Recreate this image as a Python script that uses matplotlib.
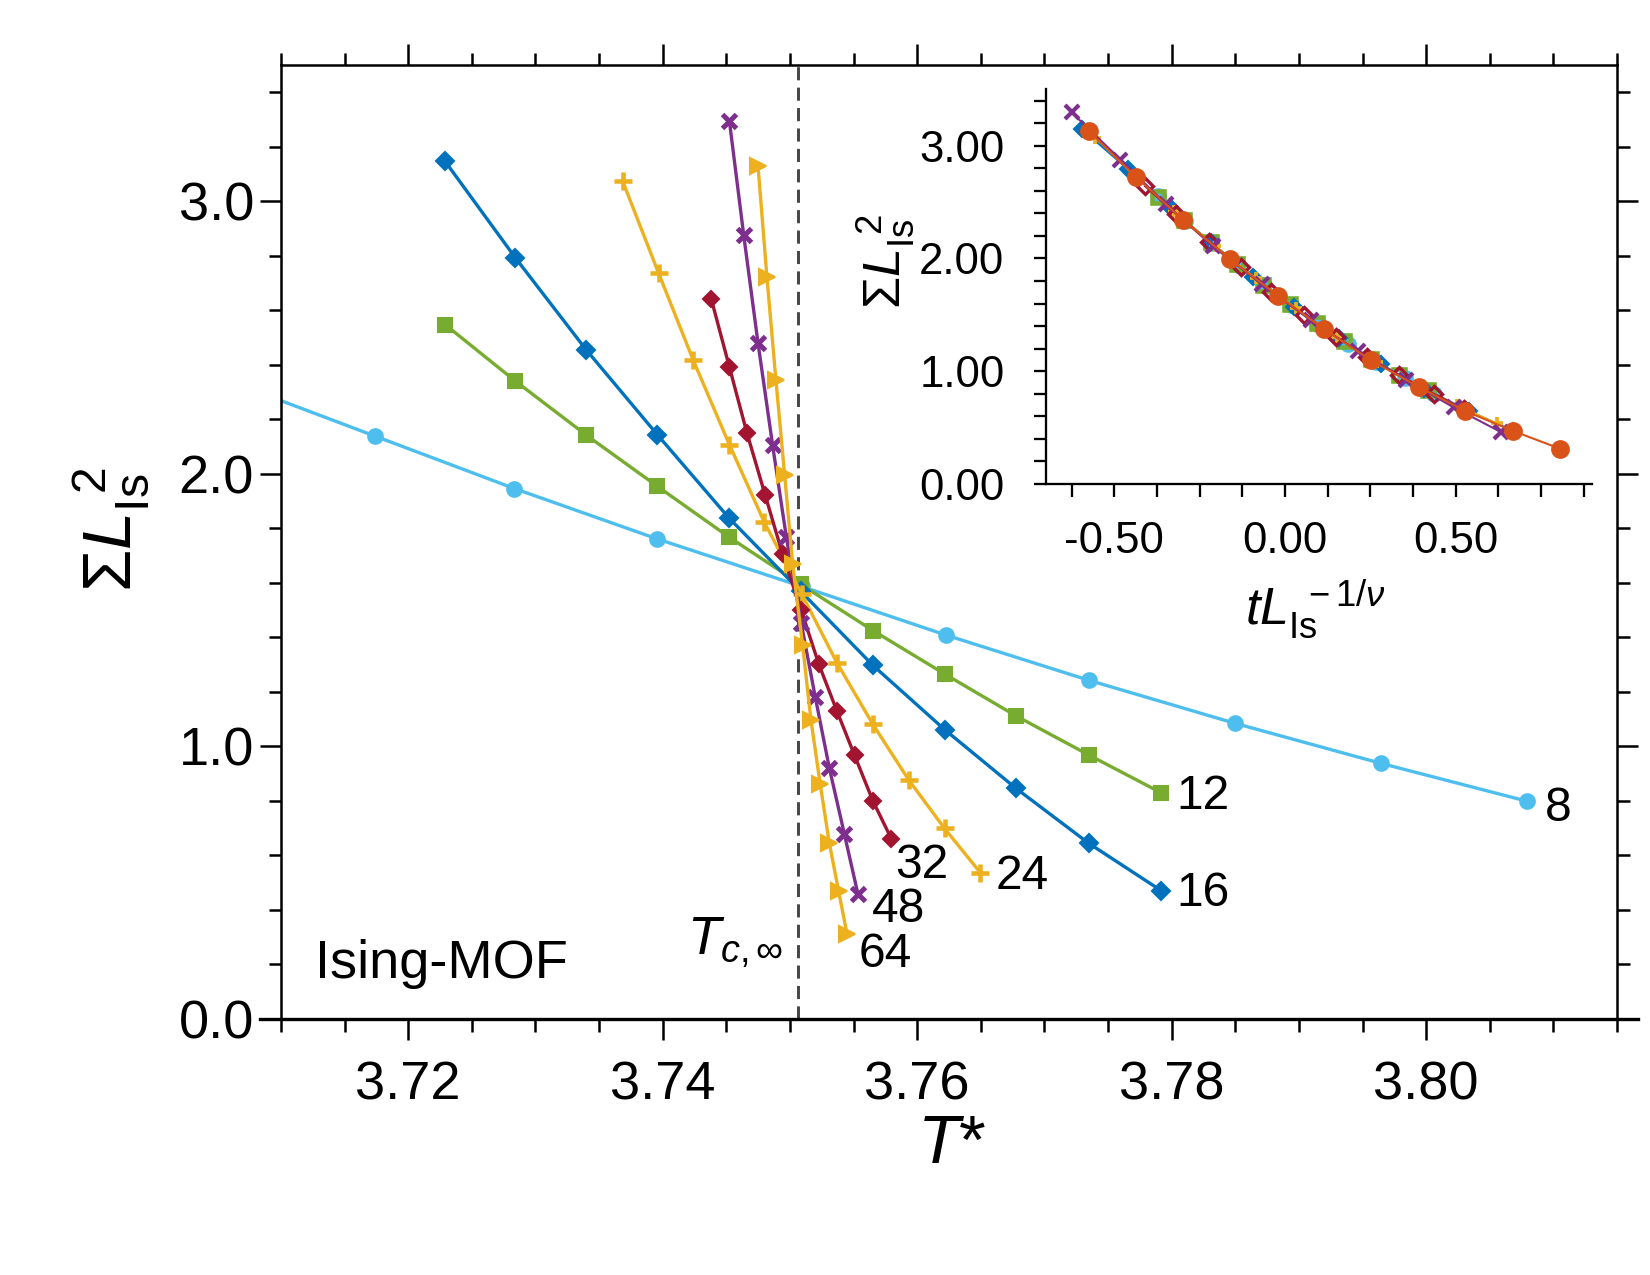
import numpy as np
import matplotlib
matplotlib.use('Agg')
import matplotlib.pyplot as plt
from matplotlib.ticker import MultipleLocator, FormatStrFormatter

plt.rcParams['font.family'] = ['Liberation Sans', 'DejaVu Sans']
plt.rcParams['mathtext.fontset'] = 'custom'
plt.rcParams['mathtext.rm'] = 'Liberation Sans'
plt.rcParams['mathtext.it'] = 'Liberation Sans:italic'
plt.rcParams['mathtext.sf'] = 'Liberation Sans'

# ---- data ----
Tc = 3.7506

T_8 = [3.69488, 3.70612, 3.71736, 3.72835, 3.73959, 3.75091, 3.76223, 3.77347, 3.78496, 3.79644, 3.80793]
S_8 = [2.550, 2.337, 2.139, 1.946, 1.761, 1.587, 1.409, 1.243, 1.085, 0.938, 0.799]

T_12 = [3.72289, 3.72843, 3.73397, 3.73959, 3.74521, 3.75083, 3.75653, 3.76215, 3.76777, 3.77347, 3.77917]
S_12 = [2.548, 2.340, 2.143, 1.954, 1.768, 1.595, 1.425, 1.266, 1.112, 0.969, 0.830]

T_16 = [3.72289, 3.72843, 3.73397, 3.73959, 3.74521, 3.75083, 3.75653, 3.76215, 3.76777, 3.77347, 3.77917]
S_16 = [3.147, 2.792, 2.456, 2.143, 1.838, 1.570, 1.297, 1.062, 0.846, 0.645, 0.471]

T_24 = [3.73686, 3.73967, 3.74240, 3.74524, 3.74798, 3.75094, 3.75369, 3.75652, 3.75932, 3.76215, 3.76496]
S_24 = [3.073, 2.737, 2.417, 2.107, 1.823, 1.558, 1.307, 1.081, 0.878, 0.699, 0.537]

T_32 = [3.74382, 3.74524, 3.74662, 3.74806, 3.74942, 3.75089, 3.75225, 3.75369, 3.75508, 3.75652, 3.75796]
S_32 = [2.641, 2.392, 2.150, 1.921, 1.705, 1.499, 1.304, 1.130, 0.967, 0.800, 0.662]

T_48 = [3.74524, 3.74636, 3.74749, 3.74863, 3.74971, 3.75089, 3.75199, 3.75309, 3.75427, 3.75534]
S_48 = [3.295, 2.878, 2.480, 2.107, 1.770, 1.451, 1.181, 0.922, 0.680, 0.459]

T_64 = [3.74749, 3.74819, 3.74890, 3.74958, 3.75021, 3.75099, 3.75165, 3.75238, 3.75309, 3.75382, 3.75448]
S_64 = [3.130, 2.722, 2.343, 1.997, 1.671, 1.373, 1.097, 0.861, 0.646, 0.470, 0.313]

# inset: scaled variable t*L^(-1/nu) for each size
X_8 = [-0.373, -0.294, -0.216, -0.139, -0.060, 0.018, 0.101, 0.184, 0.267, 0.352, 0.438]
X_12 = [-0.372, -0.295, -0.218, -0.142, -0.063, 0.014, 0.094, 0.173, 0.251, 0.334, 0.418]
X_16 = [-0.595, -0.460, -0.338, -0.218, -0.093, 0.026, 0.157, 0.280, 0.408, 0.540, 0.669]
X_24 = [-0.556, -0.442, -0.324, -0.204, -0.086, 0.032, 0.152, 0.269, 0.387, 0.503, 0.620]
X_32 = [-0.410, -0.318, -0.224, -0.130, -0.040, 0.056, 0.150, 0.240, 0.333, 0.436, 0.526]
X_48 = [-0.625, -0.482, -0.348, -0.211, -0.067, 0.076, 0.213, 0.355, 0.494, 0.634]
X_64 = [-0.575, -0.436, -0.299, -0.162, -0.021, 0.115, 0.252, 0.392, 0.529, 0.669, 0.806]

size_labels = ['8', '12', '16', '24', '32', '48', '64']
label_pos = [(3.8093, 0.772), (3.7804, 0.815), (3.7804, 0.459), (3.7662, 0.521),
             (3.7583, 0.564), (3.7564, 0.402), (3.7554, 0.236)]

c_lblue = '#4DBEEE'
c_green = '#77AC30'
c_blue = '#0072BD'
c_yell = '#EDB120'
c_red = '#A2142F'
c_purp = '#7E2F8E'
c_orng = '#D95319'

fig = plt.figure(figsize=(11, 8.5), dpi=150)
ax = fig.add_axes([0.1703, 0.2008, 0.8097, 0.7482])

lw = 1.6
ax.plot(T_8, S_8, '-o', color=c_lblue, lw=lw, ms=7)
ax.plot(T_12, S_12, '-s', color=c_green, lw=lw, ms=7)
ax.plot(T_16, S_16, '-D', color=c_blue, lw=lw, ms=6)
ax.plot(T_24, S_24, '-+', color=c_yell, lw=lw, ms=9, mew=2.2)
ax.plot(T_32, S_32, '-D', color=c_red, lw=lw, ms=5.5)
ax.plot(T_48, S_48, '-x', color=c_purp, lw=lw, ms=7, mew=2.4)
ax.plot(T_64, S_64, '->', color=c_yell, lw=lw, ms=7.5)

ax.axvline(Tc, color='#444444', ls=(0, (4.5, 2.5)), lw=1.4, zorder=1)

for lab, (xx, yy) in zip(size_labels, label_pos):
    ax.text(xx, yy, lab, fontsize=23, ha='left', va='center')
ax.text(3.7127, 0.20, 'Ising-MOF', fontsize=26, ha='left', va='center')
ax.text(3.7495, 0.28, r'$T_{c,\infty}$', fontsize=26, ha='right', va='center')

ax.set_xlim(3.71, 3.815)
ax.set_ylim(0, 3.5)
ax.xaxis.set_major_locator(MultipleLocator(0.02))
ax.xaxis.set_minor_locator(MultipleLocator(0.005))
ax.yaxis.set_major_locator(MultipleLocator(1.0))
ax.yaxis.set_minor_locator(MultipleLocator(0.2))
ax.xaxis.set_major_formatter(FormatStrFormatter('%.2f'))
ax.yaxis.set_major_formatter(FormatStrFormatter('%.1f'))
ax.tick_params(which='both', direction='out', top=True, right=True, width=1.2)
ax.tick_params(which='major', length=10, labelsize=26)
ax.tick_params(axis='x', which='major', pad=10)
ax.tick_params(axis='y', which='major', pad=3)
ax.tick_params(which='minor', length=6)
for sp in ax.spines.values():
    sp.set_linewidth(1.2)
# axis line extends a little past the frame
ax.plot([-0.016, 1.016], [0, 0], transform=ax.transAxes, color='black', lw=1.6, clip_on=False)

fig.text(0.068, 0.585, r'$\Sigma L_{\mathrm{Is}}^{\ 2}$', fontsize=33, rotation=90, ha='center', va='center')
fig.text(0.577, 0.102, r'$T$*', fontsize=33, ha='center', va='center')

# ---- inset ----
ins = fig.add_axes([0.634, 0.6204, 0.3309, 0.3095])
lw_i = 1.0
ins.plot(X_8, S_8, '-o', color=c_lblue, lw=lw_i, ms=7)
ins.plot(X_12, S_12, '-s', color=c_green, lw=lw_i, ms=6, mfc='none', mew=2.2)
ins.plot(X_16, S_16, '-D', color=c_blue, lw=lw_i, ms=5.5)
ins.plot(X_24, S_24, '-+', color=c_yell, lw=lw_i, ms=6, mew=1.8)
ins.plot(X_32, S_32, '-D', color=c_red, lw=lw_i, ms=5.5, mfc='none', mew=1.6)
ins.plot(X_48, S_48, '-x', color=c_purp, lw=lw_i, ms=6.5, mew=2)
ins.plot(X_64, S_64, '-o', color=c_orng, lw=lw_i, ms=8)

ins.set_xlim(-0.7, 0.9)
ins.set_ylim(0, 3.5)
ins.xaxis.set_major_locator(MultipleLocator(0.5))
ins.xaxis.set_minor_locator(MultipleLocator(0.125))
ins.yaxis.set_major_locator(MultipleLocator(1.0))
ins.yaxis.set_minor_locator(MultipleLocator(0.2))
ins.xaxis.set_major_formatter(FormatStrFormatter('%.2f'))
ins.yaxis.set_major_formatter(FormatStrFormatter('%.2f'))
ins.spines['top'].set_visible(False)
ins.spines['right'].set_visible(False)
for sp in ['left', 'bottom']:
    ins.spines[sp].set_linewidth(1.1)
ins.tick_params(which='both', direction='out', length=6, width=1.1)
ins.tick_params(which='major', labelsize=21)
ins.tick_params(axis='x', which='major', pad=12)
ins.tick_params(axis='y', which='major', pad=14)

fig.text(0.5365, 0.795, r'$\Sigma L_{\mathrm{Is}}^{\ 2}$', fontsize=25, rotation=90, ha='center', va='center')
fig.text(0.797, 0.522, r'$tL_{\mathrm{Is}}^{\ -1/\nu}$', fontsize=25, ha='center', va='center')

fig.savefig('out.png', dpi=150)
